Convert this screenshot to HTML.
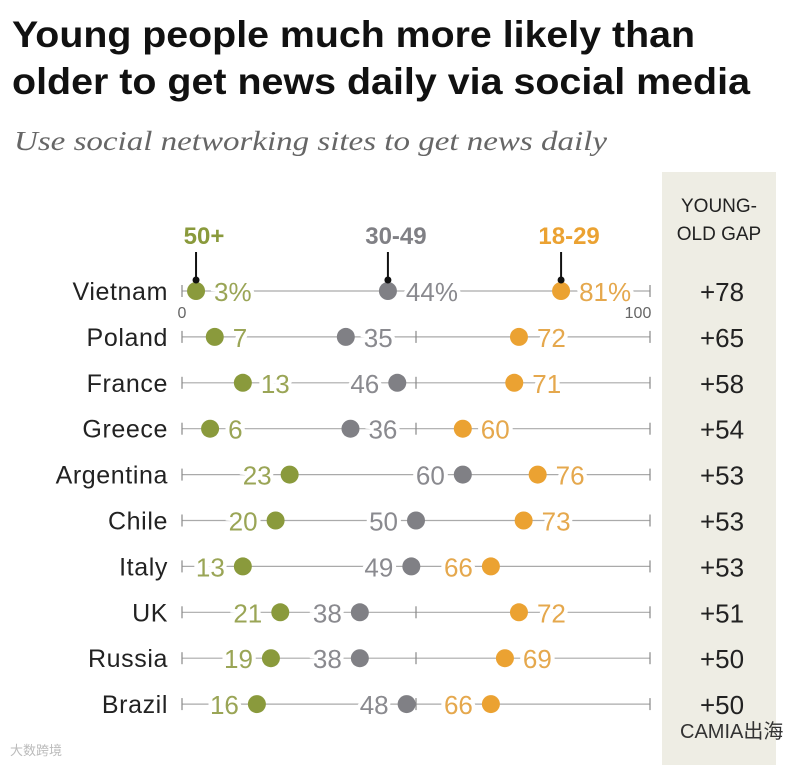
<!DOCTYPE html>
<html><head><meta charset="utf-8"><style>
body{margin:0;background:#fff;width:802px;height:765px;overflow:hidden;font-family:"Liberation Sans",sans-serif}
</style></head><body>
<svg width="802" height="765" xmlns="http://www.w3.org/2000/svg">
<rect x="662" y="172" width="114" height="593" fill="#eeede4"/>
<text x="12" y="47" font-size="37" font-weight="bold" fill="#111" textLength="683" lengthAdjust="spacingAndGlyphs">Young people much more likely than</text>
<text x="12" y="94" font-size="37" font-weight="bold" fill="#111" textLength="738" lengthAdjust="spacingAndGlyphs">older to get news daily via social media</text>
<text x="14" y="150" font-size="27" font-style="italic" fill="#666" font-family="Liberation Serif,serif" textLength="593" lengthAdjust="spacingAndGlyphs">Use social networking sites to get news daily</text>
<text x="719" y="212" font-size="19" fill="#222" text-anchor="middle">YOUNG-</text>
<text x="719" y="240" font-size="19" fill="#222" text-anchor="middle">OLD GAP</text>
<g id="rows"></g>
<text x="10" y="755" font-size="13" fill="#bbb">大数跨境</text>
<text x="680" y="738" font-size="20" fill="#333" font-family="Liberation Sans,'Noto Sans CJK SC',sans-serif">CAMIA出海</text>
</svg>
<script>
const countries=["Vietnam","Poland","France","Greece","Argentina","Chile","Italy","UK","Russia","Brazil"];
const old50=[3,7,13,6,23,20,13,21,19,16];
const mid3049=[44,35,46,36,60,50,49,38,38,48];
const young1829=[81,72,71,60,76,73,66,72,69,66];
const gaps=["+78","+65","+58","+54","+53","+53","+53","+51","+50","+50"];
const sideOld=[1,1,1,1,-1,-1,-1,-1,-1,-1];
const sideMid=[1,1,-1,1,-1,-1,-1,-1,-1,-1];
const sideYoung=[1,1,1,1,1,1,-1,1,1,-1];
const NS="http://www.w3.org/2000/svg";
const g=document.getElementById('rows');
const X=v=>182+v*4.68;
const Y=i=>291+i*45.9;
function mk(t,a){const e=document.createElementNS(NS,t);for(const k in a)e.setAttribute(k,a[k]);g.appendChild(e);return e;}
const series=[{d:old50,s:sideOld,c:"#8a9a3c",lc:"#9aa556",n:"50+"},{d:mid3049,s:sideMid,c:"#808085",lc:"#8a8a8f",n:"30-49"},{d:young1829,s:sideYoung,c:"#eba232",lc:"#e5a84d",n:"18-29"}];
countries.forEach((c,i)=>{
  const y=Y(i);
  let l=mk('line',{x1:X(0),x2:X(100),y1:y,y2:y,stroke:'#aaa','stroke-width':1.2});
  
  
  [0,50,100].forEach(v=>{const t=mk('line',{x1:X(v),x2:X(v),y1:y-6,y2:y+6,stroke:'#888','stroke-width':1.2});
    
    });
  const lab=mk('text',{x:168,y:y+9,'font-size':25,fill:'#222','text-anchor':'end','letter-spacing':0.6});lab.textContent=c;
  
  
  const gp=mk('text',{x:722,y:y+10,'font-size':26,fill:'#222','text-anchor':'middle'});gp.textContent=gaps[i];
  
  
  series.forEach(s=>{
    const v=s.d[i],x=X(v);
    const d=mk('circle',{cx:x,cy:y,r:9,fill:s.c});
    
    
    const side=s.s[i];
    const t=mk('text',{x:x+side*18,y:y+10,'font-size':26,fill:s.lc,'text-anchor':side>0?'start':'end',stroke:'#fff','stroke-width':8,'paint-order':'stroke'});
    t.textContent=v+(i===0?'%':'');
    
    
  });
});
const t0=mk('text',{x:X(0),y:318,'font-size':16,fill:'#666','text-anchor':'middle'});t0.textContent='0';


const t1=mk('text',{x:X(100)-12,y:318,'font-size':16,fill:'#666','text-anchor':'middle'});t1.textContent='100';


series.forEach(s=>{
  const x=X(s.d[0]);
  const h=mk('text',{x:x+8,y:244,'font-size':24,'font-weight':'bold',fill:s.c,'text-anchor':'middle'});h.textContent=s.n;
  
  
  const ln=mk('line',{x1:x,x2:x,y1:252,y2:281,stroke:'#111','stroke-width':2});
  
  
  const c=mk('circle',{cx:x,cy:280,r:3.5,fill:'#111'});
  
  
});
</script>
</body></html>
